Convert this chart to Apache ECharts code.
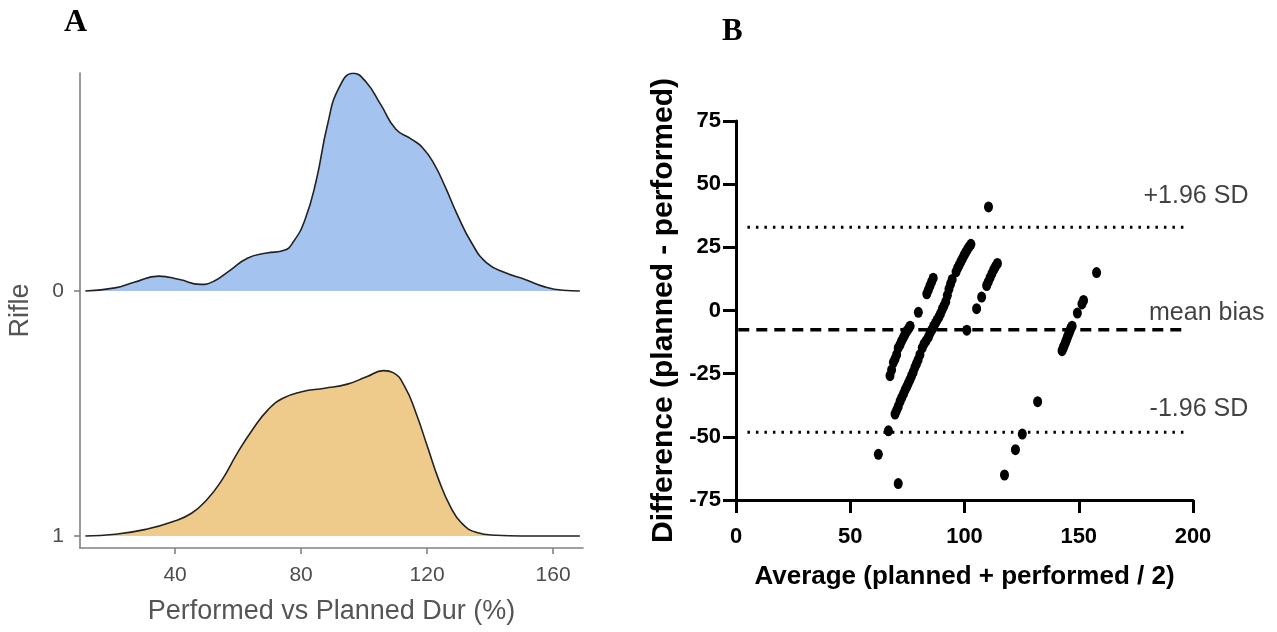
<!DOCTYPE html>
<html><head><meta charset="utf-8">
<script src="https://cdn.jsdelivr.net/npm/echarts@6/dist/echarts.min.js"></script>
<style>html,body{margin:0;padding:0;background:#fff}#c{width:1277px;height:632px}</style>
</head><body><div id="c"></div>
<script>
// ---------- Panel A: ridgeline densities ----------
const ridgeCategories = ['0', '1'];            // top to bottom
const ridgeTicks = [40, 80, 120, 160];
const rifle0X = [11.5, 20.9, 27.0, 34.8, 41.4, 48.0, 52.3, 57.1, 63.1, 69.1, 74.6, 77.6, 81.2, 84.8, 88.4, 92.0, 96.6, 100.5, 105.3, 110.1, 115.0, 118.5, 122.2, 125.8, 129.4, 134.2, 139.0, 145.1, 151.1, 157.1, 163.1, 168.5];
const rifle0H = [0, 0.013, 0.036, 0.061, 0.047, 0.027, 0.040, 0.081, 0.135, 0.155, 0.166, 0.202, 0.290, 0.451, 0.680, 0.829, 0.889, 0.855, 0.761, 0.660, 0.620, 0.586, 0.519, 0.424, 0.317, 0.195, 0.114, 0.074, 0.047, 0.018, 0.003, 0];
const rifle1X = [11.5, 21.0, 30.7, 39.2, 45.2, 50.0, 54.9, 59.7, 64.5, 69.4, 74.2, 80.2, 87.5, 94.7, 100.8, 106.2, 109.2, 112.9, 116.5, 120.1, 123.7, 127.4, 131.0, 135.8, 141.9, 150.0, 168.5];
const rifle1H = [0, 0.007, 0.027, 0.058, 0.093, 0.147, 0.229, 0.337, 0.433, 0.514, 0.562, 0.589, 0.603, 0.620, 0.650, 0.675, 0.667, 0.610, 0.501, 0.365, 0.229, 0.120, 0.052, 0.014, 0.003, 0, 0];

// ---------- Panel B: Bland-Altman ----------
const baPoints = [
  // streak A
  [67.4,-25.8],[68.1,-23.5],[68.9,-20.5],[69.6,-19.2],[70.3,-17.5],[71.0,-14.8],[71.8,-13.5],[72.5,-12.0],[73.3,-10.6],[74.0,-9.4],[74.8,-8.2],[75.5,-7.2],[76.2,-6.2],
  [79.8,-0.7],
  [83.5,6.6],[84.2,8.2],[84.9,9.8],[85.6,11.3],[86.3,12.8],
  // streak B
  [66.7,-47.6],[69.6,-41.0],[70.3,-39.5],[71.0,-38.0],[71.8,-36.0],[72.5,-34.5],[73.3,-33.0],[74.0,-31.5],[74.7,-30.2],[75.4,-28.8],[76.1,-27.5],[76.8,-26.0],[77.5,-24.5],[78.3,-22.5],[79.0,-21.0],[79.7,-19.5],[80.5,-17.5],
  [81.5,-14.8],[82.3,-13.2],[83.2,-12.0],[84.2,-10.5],[84.9,-9.0],[85.7,-7.7],[86.5,-6.2],[87.3,-5.0],[88.0,-3.8],[88.8,-2.6],[89.5,-1.2],[90.3,0.5],[91.0,1.8],[91.8,3.5],[92.5,6.0],[93.2,8.5],[93.9,10.5],[94.6,12.3],
  [96.3,15.3],[97.0,16.8],[97.7,18.0],[98.4,19.3],[99.1,20.5],[99.8,21.8],[100.5,23.0],[101.3,24.2],[102.0,25.2],[102.8,26.2],
  // streak C
  [101.0,-7.8],[105.3,0.7],[107.5,5.3],[109.7,9.9],[110.4,11.3],[111.2,13.0],[112.0,14.6],[112.8,16.2],[113.6,17.5],[114.4,18.6],
  [110.5,41.0],
  // isolated low
  [62.3,-56.9],[71.0,-68.5],
  // right cluster
  [142.7,-15.9],[143.2,-14.9],[143.6,-13.9],[144.1,-12.9],[144.5,-11.9],[144.9,-10.9],[145.3,-9.9],[145.8,-8.9],[146.2,-7.9],[146.6,-7.0],[147.1,-6.2],
  [149.4,-1.0],[151.4,2.6],[152.1,4.0],[157.8,15.0],
  [117.5,-65.1],[122.3,-55.1],[125.3,-48.9],[132.0,-36.1]
];
const meanBias = -7.6;
const upperLoA = 32.9;
const lowerLoA = -48.2;
const baLabels = ['+1.96 SD', 'mean bias', '-1.96 SD'];
const baLabelPos = [[201.3, 45.2], [206.0, -1.2], [202.6, -38.9]];

const sans = '"Liberation Sans",Arial,sans-serif';
const grayAxis = '#808080';

const chart = echarts.init(document.getElementById('c'), null, {renderer: 'canvas'});
const blackAxis = {
  axisLine: {show: true, onZero: false, lineStyle: {color: '#000', width: 3}},
  axisTick: {show: true, length: 13, lineStyle: {color: '#000', width: 3}},
  splitLine: {show: false}
};

chart.setOption({
  animation: false,
  backgroundColor: '#fff',
  title: [
    {text: 'A', left: 64, top: 7, padding: 0, textStyle: {fontFamily: '"Liberation Serif",serif', fontWeight: 'bold', fontSize: 32, color: '#000'}},
    {text: 'B', left: 722, top: 16, padding: 0, textStyle: {fontFamily: '"Liberation Serif",serif', fontWeight: 'bold', fontSize: 31, color: '#000'}}
  ],
  grid: [
    {left: 80, top: 73, width: 503, height: 475},
    {left: 736, top: 121, width: 457, height: 379}
  ],
  xAxis: [
    {gridIndex: 0, type: 'value', min: 9.8, max: 169.5,
     axisLine: {show: true, onZero: false, lineStyle: {color: grayAxis, width: 1.6}},
     axisTick: {show: true, customValues: ridgeTicks, length: 6, lineStyle: {color: grayAxis, width: 1.6}},
     axisLabel: {customValues: ridgeTicks, margin: 17, fontSize: 21, color: '#4d4d4d', fontFamily: sans},
     splitLine: {show: false},
     name: 'Performed vs Planned Dur (%)', nameLocation: 'middle', nameGap: 50,
     nameTextStyle: {fontSize: 27, color: '#555', fontFamily: sans}},
    Object.assign({gridIndex: 1, type: 'value', min: 0, max: 200, interval: 50,
     axisLabel: {margin: 26, fontSize: 22, fontWeight: 'bold', color: '#000', fontFamily: sans},
     name: 'Average (planned + performed / 2)', nameLocation: 'middle', nameGap: 64,
     nameTextStyle: {fontSize: 26, fontWeight: 'bold', color: '#000', fontFamily: sans}}, blackAxis)
  ],
  yAxis: [
    {gridIndex: 0, type: 'value', min: -0.049, max: 1.89,
     axisLine: {show: true, onZero: false, lineStyle: {color: grayAxis, width: 1.6}},
     axisTick: {show: true, customValues: [0, 1], length: 6, lineStyle: {color: grayAxis, width: 1.6}},
     axisLabel: {customValues: [0, 1], margin: 16, fontSize: 21, color: '#4d4d4d', fontFamily: sans,
       formatter: v => ridgeCategories[ridgeCategories.length - 1 - Math.round(v)]},
     splitLine: {show: false},
     name: 'Rifle', nameLocation: 'middle', nameGap: 46, nameRotate: 90,
     nameTextStyle: {fontSize: 27, color: '#555', fontFamily: sans}},
    {gridIndex: 0, type: 'value', min: -1.049, max: 0.89, show: false},
    Object.assign({gridIndex: 1, type: 'value', min: -75, max: 75, interval: 25,
     axisLabel: {margin: 15, fontSize: 22, fontWeight: 'bold', color: '#000', fontFamily: sans},
     name: 'Difference (planned - performed)', nameLocation: 'middle', nameGap: 57, nameRotate: 90,
     nameTextStyle: {fontSize: 30, fontWeight: 'bold', color: '#000', fontFamily: sans}}, blackAxis)
  ],
  series: [
    {type: 'line', xAxisIndex: 0, yAxisIndex: 0, data: rifle1X.map((x, i) => [x, rifle1H[i]]),
     smooth: 0.5, symbol: 'none',
     lineStyle: {color: '#222', width: 1.6}, areaStyle: {color: '#efcb8b', opacity: 1, origin: 'auto'}},
    {type: 'line', xAxisIndex: 0, yAxisIndex: 1, data: rifle0X.map((x, i) => [x, rifle0H[i]]),
     smooth: 0.5, symbol: 'none',
     lineStyle: {color: '#222', width: 1.6}, areaStyle: {color: '#a4c3ef', opacity: 1, origin: 'auto'}},
    {type: 'line', xAxisIndex: 1, yAxisIndex: 2, data: [[5, upperLoA], [197, upperLoA]], symbol: 'none',
     lineStyle: {color: '#000', width: 3, type: [2.5, 6]}},
    {type: 'line', xAxisIndex: 1, yAxisIndex: 2, data: [[5, lowerLoA], [197, lowerLoA]], symbol: 'none',
     lineStyle: {color: '#000', width: 3, type: [2.5, 6]}},
    {type: 'line', xAxisIndex: 1, yAxisIndex: 2, data: [[1, meanBias], [196, meanBias]], symbol: 'none',
     lineStyle: {color: '#000', width: 3.5, type: [11, 7]}},
    {type: 'scatter', xAxisIndex: 1, yAxisIndex: 2, data: baPoints, symbol: 'circle', symbolSize: [9, 11],
     itemStyle: {color: '#000', opacity: 1}},
    {type: 'scatter', xAxisIndex: 1, yAxisIndex: 2, clip: false, symbolSize: 1,
     itemStyle: {color: 'rgba(0,0,0,0)'},
     data: baLabels.map((t, i) => ({name: t, value: baLabelPos[i]})),
     label: {show: true, position: 'inside', formatter: '{b}', fontSize: 25, color: '#111', fontFamily: sans}}
  ]
});
</script></body></html>
